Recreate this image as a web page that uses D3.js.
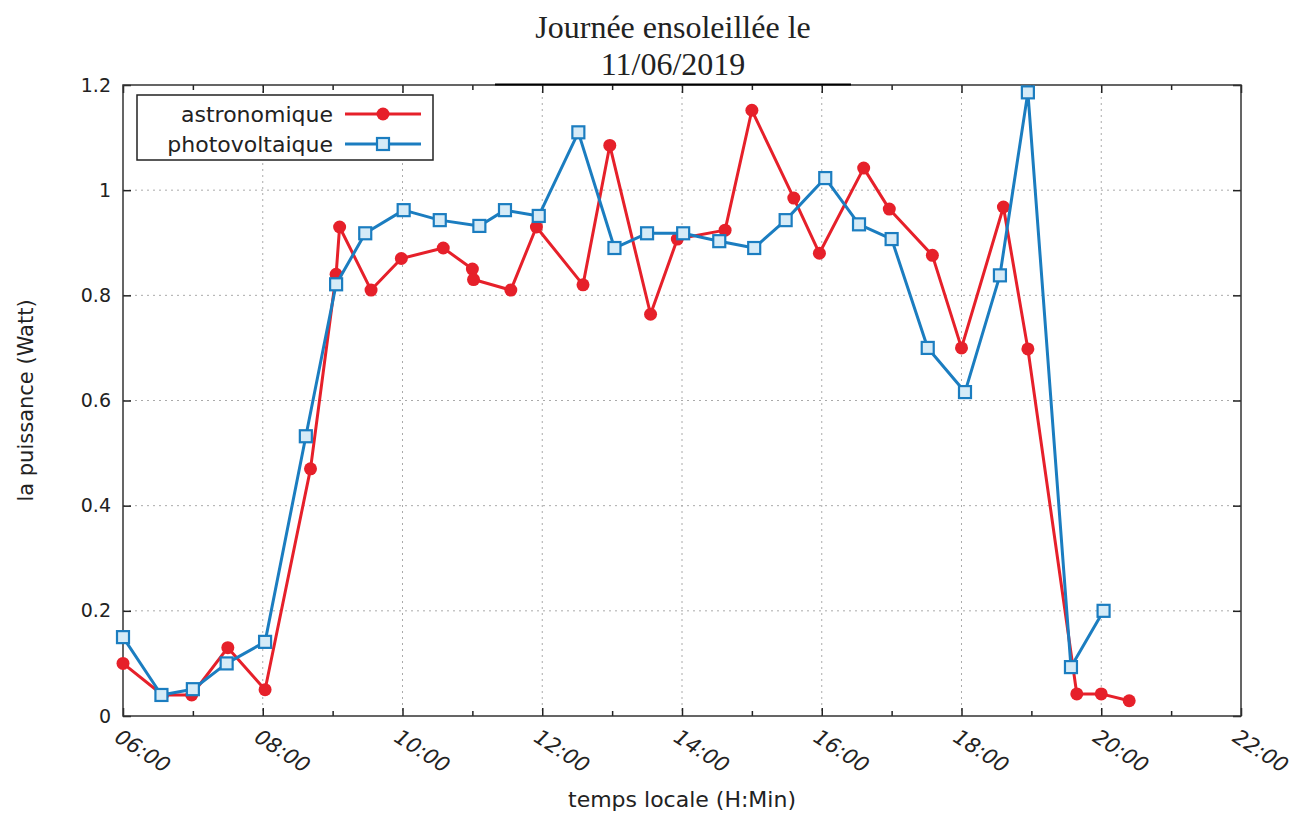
<!DOCTYPE html>
<html lang="fr">
<head>
<meta charset="UTF-8">
<title>Journée ensoleillée le 11/06/2019</title>
<script src="https://d3js.org/d3.v7.min.js"></script>
<style>
  body{margin:0;background:#fff;}
  .chart text{font-family:"DejaVu Sans",sans-serif;fill:#222;}
  .title{font-family:"Liberation Serif","Times New Roman",serif !important;font-size:32px;}
  .grid line{stroke:#aaa;stroke-dasharray:2,4;stroke-width:1;}
</style>
</head>
<body>
<svg class="chart"></svg>
<script>
// heures de mesure (H:Min) et puissance en Watt
let astroTimes = ["06:00","06:34","06:59","07:30","08:02","08:41","09:03","09:06","09:33","09:59","10:35","11:00","11:01","11:33","11:55","12:35","12:58","13:33","13:56","14:37","15:00","15:36","15:58","16:36","16:58","17:35","18:00","18:36","18:57","19:39","20:00","20:24"];
let astroValues = [0.10,0.04,0.04,0.13,0.05,0.47,0.84,0.93,0.81,0.87,0.89,0.85,0.83,0.81,0.93,0.82,1.085,0.764,0.907,0.924,1.152,0.985,0.88,1.042,0.964,0.876,0.70,0.968,0.698,0.042,0.042,0.029];

let pvTimes = ["06:00","06:33","07:00","07:29","08:02","08:37","09:03","09:28","10:01","10:32","11:06","11:28","11:57","12:31","13:02","13:30","14:01","14:32","15:02","15:29","16:03","16:32","17:00","17:31","18:03","18:33","18:57","19:34","20:02"];
let pvValues = [0.15,0.04,0.051,0.10,0.141,0.532,0.821,0.918,0.962,0.943,0.932,0.962,0.951,1.11,0.89,0.918,0.918,0.903,0.89,0.943,1.023,0.935,0.907,0.70,0.616,0.838,1.186,0.093,0.20];

let xTickLabels = ["06:00","08:00","10:00","12:00","14:00","16:00","18:00","20:00","22:00"];
let yTickLabels = [0,0.2,0.4,0.6,0.8,1,1.2];

let parseTime = d3.timeParse("%H:%M");
let astro = astroTimes.map((t,i)=>({t:parseTime(t),v:astroValues[i]}));
let pv = pvTimes.map((t,i)=>({t:parseTime(t),v:pvValues[i]}));

let margin={top:85,right:57,bottom:101,left:123};
let W=1298,H=817;
let width=W-margin.left-margin.right,height=H-margin.top-margin.bottom;

let red="#e6202a",blue="#1b7dc0";

let x=d3.scaleTime().domain([parseTime("06:00"),parseTime("22:00")]).range([0,width]);
let y=d3.scaleLinear().domain([0,1.2]).range([height,0]);

let svg=d3.select('.chart').attr('width',W).attr('height',H);
let chart=svg.append('g').attr('transform','translate('+margin.left+','+margin.top+')');

let majors=xTickLabels.map(parseTime);
let minors=d3.timeHour.range(parseTime("07:00"),parseTime("22:00"),2);

// grille
let grid=chart.append('g').attr('class','grid');
grid.selectAll('.gx').data(majors.slice(1,-1)).enter().append('line')
    .attr('x1',d=>x(d)).attr('x2',d=>x(d)).attr('y1',0).attr('y2',height);
grid.selectAll('.gy').data(yTickLabels.slice(1,-1)).enter().append('line')
    .attr('x1',0).attr('x2',width).attr('y1',d=>y(d)).attr('y2',d=>y(d));

// axes (ticks vers l'intérieur)
let fmt=d3.timeFormat("%H:%M");
let xAxis=chart.append('g').attr('transform','translate(0,'+height+')')
    .call(d3.axisBottom(x).tickValues(majors).tickSize(-8).tickFormat(fmt));
xAxis.selectAll('text')
    .style('font-size','21px').style('font-style','italic')
    .attr('text-anchor','start')
    .attr('transform','translate(-2,12) rotate(33)')
    .attr('dy','0.71em').attr('y',0).attr('x',0);
chart.append('g').attr('transform','translate(0,'+height+')')
    .call(d3.axisBottom(x).tickValues(minors).tickSize(-5).tickFormat(''));
chart.append('g').call(d3.axisTop(x).tickValues(majors).tickSize(-8).tickFormat(''));
chart.append('g').call(d3.axisTop(x).tickValues(minors).tickSize(-5).tickFormat(''));

let yAxis=chart.append('g')
    .call(d3.axisLeft(y).tickValues(yTickLabels).tickSize(-8).tickPadding(12).tickFormat(d3.format('')));
yAxis.selectAll('text').style('font-size','19px');
chart.append('g').attr('transform','translate('+width+',0)')
    .call(d3.axisRight(y).tickValues(yTickLabels).tickSize(-8).tickFormat(''));

chart.selectAll('.domain').remove();
chart.selectAll('.tick line').attr('stroke','#222').attr('stroke-width',1.5);

// cadre
chart.append('rect').attr('width',width).attr('height',height)
    .attr('fill','none').attr('stroke','#333').attr('stroke-width',1.5);

// courbes
let line=d3.line().x(d=>x(d.t)).y(d=>y(d.v));
chart.append('path').datum(astro).attr('d',line)
    .attr('fill','none').attr('stroke',red).attr('stroke-width',3).attr('stroke-linejoin','round');
chart.selectAll('.dot').data(astro).enter().append('circle')
    .attr('cx',d=>x(d.t)).attr('cy',d=>y(d.v)).attr('r',6.5).attr('fill',red);

chart.append('path').datum(pv).attr('d',line)
    .attr('fill','none').attr('stroke',blue).attr('stroke-width',3).attr('stroke-linejoin','round');
chart.selectAll('.sq').data(pv).enter().append('rect')
    .attr('x',d=>x(d.t)-6).attr('y',d=>y(d.v)-6).attr('width',12).attr('height',12)
    .attr('fill','#d6ebf7').attr('stroke',blue).attr('stroke-width',2.2);

// légende
let lg=chart.append('g').attr('transform','translate(14,10)');
lg.append('rect').attr('width',296).attr('height',65)
    .attr('fill','#fff').attr('stroke','#222').attr('stroke-width',1.5);
let items=[{name:"astronomique",c:red,m:'circle'},{name:"photovoltaique",c:blue,m:'square'}];
items.forEach((it,i)=>{
    let yy=19+i*30;
    lg.append('text').attr('x',196).attr('y',yy).attr('dy','0.35em')
        .attr('text-anchor','end').style('font-size','22px').text(it.name);
    lg.append('line').attr('x1',208).attr('x2',284).attr('y1',yy).attr('y2',yy)
        .attr('stroke',it.c).attr('stroke-width',3);
    if(it.m==='circle'){
        lg.append('circle').attr('cx',246).attr('cy',yy).attr('r',6.5).attr('fill',it.c);
    }else{
        lg.append('rect').attr('x',240).attr('y',yy-6).attr('width',12).attr('height',12)
            .attr('fill','#d6ebf7').attr('stroke',it.c).attr('stroke-width',2.2);
    }
});

// titres des axes
svg.append('text').attr('x',margin.left+width/2).attr('y',807)
    .attr('text-anchor','middle').style('font-size','22px').text('temps locale (H:Min)');
svg.append('text').attr('transform','translate(33,'+(margin.top+height/2)+') rotate(-90)')
    .attr('text-anchor','middle').style('font-size','21px').text('la puissance (Watt)');

// titre
svg.append('rect').attr('x',495).attr('y',0).attr('width',356).attr('height',84).attr('fill','#fff');
svg.append('line').attr('x1',495).attr('x2',851).attr('y1',84.5).attr('y2',84.5)
    .attr('stroke','#000').attr('stroke-width',2);
svg.append('text').attr('class','title').attr('x',673).attr('y',38)
    .attr('text-anchor','middle').text('Journée ensoleillée le');
svg.append('text').attr('class','title').attr('x',673).attr('y',75)
    .attr('text-anchor','middle').text('11/06/2019');
</script>
</body>
</html>
